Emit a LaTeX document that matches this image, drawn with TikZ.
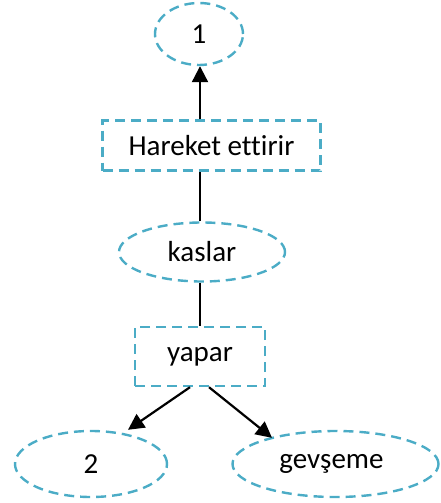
\documentclass[tikz,border=0pt]{standalone}
\usepackage{fontspec}
\setmainfont[Ligatures=NoCommon]{Carlito}
\usepackage{tikz}
\usetikzlibrary{
  arrows.meta,
  calc,
  positioning,
  shapes}
\definecolor{kenar}{HTML}{4BACC6}

\begin{document}
\begin{tikzpicture}[x=1pt,y=-1pt,
        kesik/.style={draw=kenar,line width=2.4pt,dash pattern=on 10pt off 6pt,inner sep=0pt,font=\fontsize{29}{33}\selectfont},
        elips/.style={kesik,ellipse},
        kutu/.style={kesik,rectangle},
        ok/.style={line width=2.2pt,-{Triangle[length=16pt,width=16pt]}}]
            \useasboundingbox (0,0) rectangle (440,503);
            \node[elips,minimum width=88pt,minimum height=62pt] (bir) at (199,34) {1};
            \node[kutu,minimum width=218pt,minimum height=50pt] (hareket) at (211.5,145.5) {Hareket ettirir};
            \node[elips,minimum width=166pt,minimum height=59pt] (kaslar) at (202,252) {kaslar};
            \node[kutu,minimum width=130pt,minimum height=59pt] (yapar) at (200,356.5) {yapar};
            \node[elips,minimum width=152pt,minimum height=66pt] (iki) at (91,464) {2};
            \node[elips,minimum width=206pt,minimum height=66pt] (gevseme) at (335.5,464) {\hspace*{-8pt}gevşeme};
            \draw[ok] (hareket.north -| 200,0) -- (bir.south -| 200,0);
            \draw[line width=2.2pt] (kaslar.north -| 200,0) -- (hareket.south -| 200,0);
            \draw[line width=2.2pt] (kaslar.south -| 200,0) -- (yapar.north -| 200,0);
            \draw[ok] ($(yapar.south)+(-10,0)$) -- ($(iki.north)+(37,0)$);
            \draw[ok] ($(yapar.south)+(9,0)$) -- ($(gevseme.north)+(-63.5,8)$);
        \end{tikzpicture}
\end{document}
